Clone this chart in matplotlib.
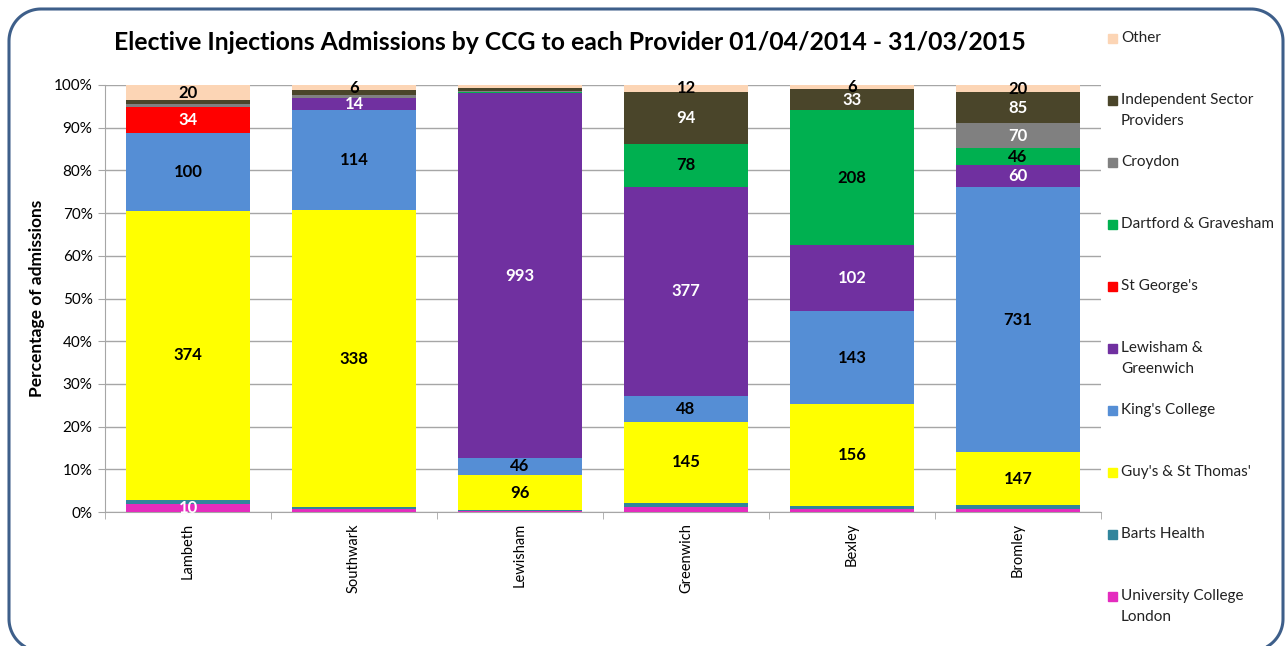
import matplotlib
matplotlib.use("Agg")
import matplotlib.pyplot as plt
import numpy as np
from matplotlib.patches import Rectangle, Polygon

plt.rcParams['font.family'] = ['Lato', 'DejaVu Sans']

ccgs = ["Lambeth", "Southwark", "Lewisham", "Greenwich", "Bexley", "Bromley"]

providers = ["University College\nLondon", "Barts Health", "Guy's & St Thomas'",
             "King's College", "Lewisham &\nGreenwich", "St George's",
             "Dartford & Gravesham", "Croydon", "Independent Sector\nProviders", "Other"]

# admissions per provider, one value per CCG
ucl       = [10, 3, 2, 9, 4, 9]
barts     = [5, 3, 3, 8, 6, 9]
guys      = [374, 338, 96, 145, 156, 147]
kings     = [100, 114, 46, 48, 143, 731]
lewisham  = [0, 14, 993, 377, 102, 60]
stgeorges = [34, 0, 0, 0, 0, 0]
dartford  = [0, 0, 2, 78, 208, 46]
croydon   = [3, 4, 3, 0, 0, 70]
indep     = [5, 5, 8, 94, 33, 85]
other     = [20, 6, 9, 12, 6, 20]

colours = ["#E42CBE", "#31859C", "#FFFF00", "#558ED5", "#7030A0", "#FF0000",
           "#00B050", "#808080", "#4A452A", "#FCD5B5"]
white_text = [True, True, False, False, True, True, False, True, True, False]

series = [ucl, barts, guys, kings, lewisham, stgeorges, dartford, croydon, indep, other]
label_skip = [("Lewisham", 9)]

data = np.array(series, dtype=float)
totals = data.sum(axis=0)
pct = data / totals * 100

fig = plt.figure(figsize=(12.87, 6.46), dpi=100)

# frame with rounded corners, in pixel units
bg = fig.add_axes([0, 0, 1, 1])
bg.set_xlim(0, 1287)
bg.set_ylim(646, 0)
bg.axis("off")
r = 32
x0, x1, y0, y1 = 9, 1283, 9, 651
t = np.linspace(0, np.pi / 2, 30)
fx = np.concatenate([x1 - r + r * np.sin(t), x1 - r + r * np.cos(t),
                     x0 + r - r * np.sin(t), x0 + r - r * np.cos(t)])
fy = np.concatenate([y0 + r - r * np.cos(t), y1 - r + r * np.sin(t),
                     y1 - r + r * np.cos(t), y0 + r - r * np.sin(t)])
bg.add_patch(Polygon(np.column_stack([fx, fy]), closed=True, fill=False,
                     edgecolor="#3E5F8A", linewidth=2.2, joinstyle="round", clip_on=False))

ax = fig.add_axes([105/1287, 1 - 512/646, 996/1287, 427/646])

x = np.arange(len(ccgs))
bottom = np.zeros(len(ccgs))
for i, s in enumerate(series):
    ax.bar(x, pct[i], 0.75, bottom=bottom, color=colours[i], zorder=3)
    for j in range(len(ccgs)):
        v = s[j]
        show = v >= 10 or (i == 9 and v > 0)
        if (ccgs[j], i) in label_skip:
            show = False
        if show:
            ax.text(x[j], bottom[j] + pct[i][j] / 2, str(v), ha="center", va="center",
                    fontsize=12, fontweight="bold",
                    color="white" if white_text[i] else "black", zorder=4)
    bottom += pct[i]

ax.set_xlim(-0.5, len(ccgs) - 0.5)
ax.set_ylim(0, 100)
ax.set_yticks(np.arange(0, 101, 10))
ax.set_yticklabels([f"{t}%" for t in range(0, 101, 10)], fontsize=11)
ax.yaxis.grid(True, color="#A6A6A6", linewidth=1, zorder=0)
ax.set_xticks(x)
ax.set_xticklabels(ccgs, rotation=90, fontsize=10.5)
ax.set_xticks(np.arange(-0.5, len(ccgs)), minor=True)
ax.tick_params(axis="x", which="major", length=0, pad=8)
ax.tick_params(axis="x", which="minor", length=5, color="#A6A6A6")
ax.tick_params(axis="y", length=5, color="#A6A6A6", pad=4)
for side in ["top", "right"]:
    ax.spines[side].set_visible(False)
for side in ["left", "bottom"]:
    ax.spines[side].set_color("#A6A6A6")
ax.set_ylabel("Percentage of admissions", fontsize=12.5, fontweight="bold", labelpad=6)

fig.text(570/1287, 1 - 43/646, "Elective Injections Admissions by CCG to each Provider 01/04/2014 - 31/03/2015",
         ha="center", va="center", fontsize=17.8, fontweight="bold")

# legend, drawn by hand (Other on top)
for k, i in enumerate(range(len(series) - 1, -1, -1)):
    yc = 39 + 62 * k
    bg.add_patch(Rectangle((1108, yc - 5), 9, 9, color=colours[i]))
    bg.text(1121, yc - 8, providers[i], ha="left", va="top",
            fontsize=11, color="#222222", linespacing=1.6)

fig.savefig("out.png", dpi=100)
